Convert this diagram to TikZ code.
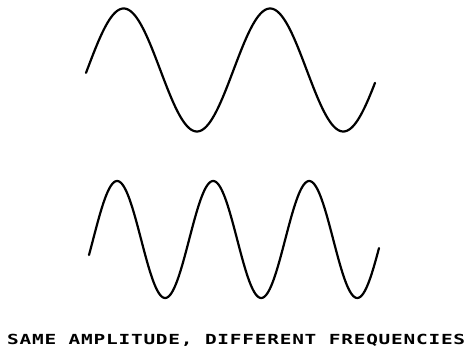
\documentclass[tikz,border=0pt]{standalone}
\usepackage{fontspec}
\usepackage{graphicx}
\newfontfamily\capfont[LetterSpace=4]{DejaVu Sans Mono}
\begin{document}
\begin{tikzpicture}[x=1pt,y=-1pt,
  wave/.style={line width=2.2pt,line cap=round,line join=round,black}]
\useasboundingbox (0,0) rectangle (467,358);
% top wave: lower frequency
\draw[wave] plot[domain=86:375,samples=240,smooth] (\x,{70-61.5*sin(((\x-87.1)/146.4)*360)});
% bottom wave: higher frequency
\draw[wave] plot[domain=89:379,samples=240,smooth] (\x,{239.5-58.5*sin(((\x-93.1)/96.05)*360)});
\node[anchor=base west,inner sep=0pt] (cap) at (7,345)
  {\resizebox{458pt}{\height}{\fontsize{13.9pt}{14pt}\capfont\bfseries SAME AMPLITUDE, DIFFERENT FREQUENCIES}};
\end{tikzpicture}
\end{document}
